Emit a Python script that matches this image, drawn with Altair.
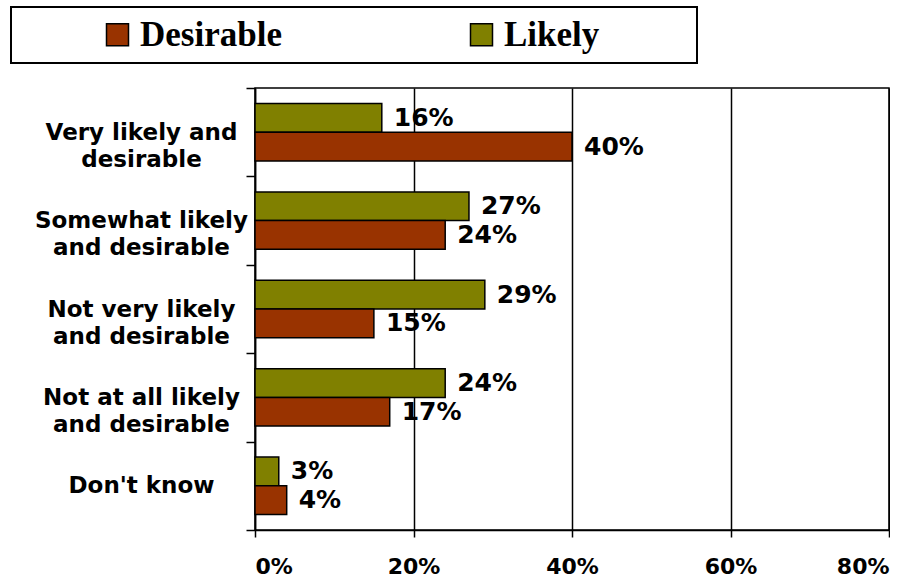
import altair as alt
import pandas as pd

# Survey answers (percent of respondents)
categories = [
    "Very likely and\ndesirable",
    "Somewhat likely\nand desirable",
    "Not very likely\nand desirable",
    "Not at all likely\nand desirable",
    "Don't know",
]
series_names = ["Desirable", "Likely"]
bar_order = ["Likely", "Desirable"]
desirable = [40, 24, 15, 17, 4]
likely = [16, 27, 29, 24, 3]
x_ticks = [0, 20, 40, 60, 80]
series_colors = ["#993300", "#808000"]

rows = []
for cat, d, l in zip(categories, desirable, likely):
    rows.append({"category": cat, "series": "Likely", "value": l})
    rows.append({"category": cat, "series": "Desirable", "value": d})
df = pd.DataFrame(rows)

SANS = "DejaVu Sans"
SERIF = "Liberation Serif"

y_enc = alt.Y(
    "category:N",
    sort=categories,
    scale=alt.Scale(paddingInner=0, paddingOuter=0),
    axis=alt.Axis(
        title=None,
        labelExpr="split(datum.label, '\\n')",
        labelAlign="center",
        labelBaseline="middle",
        labelPadding=105,
        labelLimit=400,
        labelFont=SANS,
        labelFontWeight="bold",
        labelFontSize=23,
        labelLineHeight=27,
        labelColor="black",
        tickBand="extent",
        tickSize=9,
        tickColor="black",
        tickWidth=1.5,
        domainColor="black",
        domainWidth=1.5,
        grid=False,
    ),
)
yoff_enc = alt.YOffset(
    "series:N",
    sort=bar_order,
    scale=alt.Scale(domain=bar_order, paddingInner=0, paddingOuter=0.54),
)
x_enc = alt.X(
    "value:Q",
    scale=alt.Scale(domain=[0, 80], nice=False),
    axis=alt.Axis(
        title=None,
        values=x_ticks,
        labelExpr="datum.value + '%'",
        labelFont=SANS,
        labelFontWeight="bold",
        labelFontSize=22,
        labelColor="black",
        labelPadding=19,
        tickSize=7,
        tickColor="black",
        tickWidth=1.5,
        domainColor="black",
        domainWidth=1.5,
        grid=True,
        gridColor="black",
        gridWidth=1.5,
        gridOpacity=1,
    ),
)

# trailing spacer keeps the framed legend as wide as the plot header
spacer = "\u00a0" * 10 + "\u200b"
legend = alt.Legend(
    title=None,
    orient="none",
    legendX=-244,
    legendY=-81,
    direction="horizontal",
    symbolType="square",
    symbolSize=484,
    symbolStrokeColor="black",
    symbolStrokeWidth=1.5,
    symbolOffset=79,
    labelOffset=5,
    columnPadding=103,
    labelFont=SERIF,
    labelFontWeight="bold",
    labelFontSize=35,
    labelColor="black",
    labelLimit=600,
    labelExpr="datum.label == 'Likely' ? datum.label + '" + spacer + "' : datum.label",
    strokeColor="black",
    padding=10,
)

bars = alt.Chart(df).mark_bar(stroke="black", strokeWidth=1.5).encode(
    y=y_enc,
    yOffset=yoff_enc,
    x=x_enc,
    color=alt.Color(
        "series:N",
        scale=alt.Scale(domain=series_names, range=series_colors),
        legend=legend,
    ),
)

labels = (
    alt.Chart(df)
    .transform_calculate(text="datum.value + '%'")
    .mark_text(
        align="left",
        baseline="middle",
        dx=12,
        font=SANS,
        fontWeight="bold",
        fontSize=25,
        color="black",
    )
    .encode(y=y_enc, yOffset=yoff_enc, x=x_enc, text="text:N")
)

chart = (
    alt.layer(bars, labels)
    .properties(
        width=634,
        height=442,
        padding={"left": 10, "top": 6, "right": 0, "bottom": 0},
        background="white",
    )
    .configure_view(stroke="black", strokeWidth=1.5)
    .configure_legend(strokeWidth=2)
)

chart.save("out.html", embed_options={"renderer": "svg", "actions": False})
